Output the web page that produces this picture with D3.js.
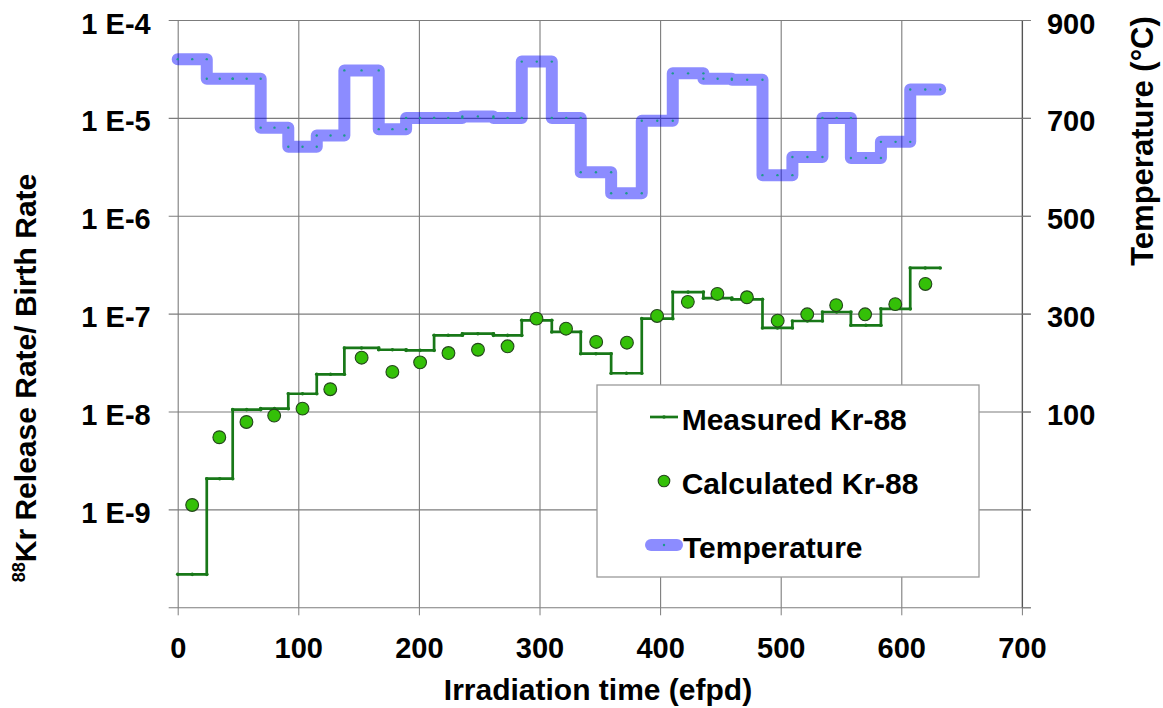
<!DOCTYPE html>
<html>
<head>
<meta charset="utf-8">
<script src="https://cdn.jsdelivr.net/npm/d3@7"></script>
<style>
  html, body { margin: 0; padding: 0; background: #fff; }
  svg { display: block; font-family: "Liberation Sans", Arial, Helvetica, sans-serif; }
  .tick text { font-weight: bold; font-size: 29px; fill: #000; }
</style>
</head>
<body>
<svg id="chart" width="1163" height="708"></svg>
<script>
// Irradiation intervals (efpd): each value below holds between two consecutive boundaries
const boundaries = [0, 24.1, 45.6, 68.8, 91.7, 115.3, 138.2, 166.7, 189.4, 212.6, 236.0, 261.8,
  285.3, 310.2, 334.2, 359.4, 384.8, 410.5, 435.9, 459.5, 484.9, 509.7, 534.6, 558.2, 583.1, 607.4, 632.3];

// Measured Kr-88 release rate / birth rate per interval
const measuredKr88 = [2.17e-10, 2.06e-9, 1.045e-8, 1.07e-8, 1.52e-8, 2.40e-8, 4.46e-8, 4.28e-8, 4.22e-8,
  6.01e-8, 6.24e-8, 6.0e-8, 8.55e-8, 6.50e-8, 3.90e-8, 2.46e-8, 8.89e-8, 1.66e-7, 1.44e-7, 1.40e-7,
  7.14e-8, 8.41e-8, 1.04e-7, 7.60e-8, 1.12e-7, 2.93e-7];

// Calculated Kr-88 R/B at the middle of each interval
const calcDays = [12, 34.5, 57, 80, 103.5, 126.5, 152.5, 178, 201, 224.5, 249, 273.5, 297.5, 322, 347,
  372.5, 397.5, 423, 447.5, 472, 497.5, 522, 546, 570, 595, 620];
const calculatedKr88 = [1.11e-9, 5.46e-9, 7.82e-9, 9.1e-9, 1.07e-8, 1.69e-8, 3.55e-8, 2.54e-8, 3.18e-8,
  3.96e-8, 4.28e-8, 4.64e-8, 8.89e-8, 7.02e-8, 5.14e-8, 5.05e-8, 9.47e-8, 1.32e-7, 1.59e-7, 1.47e-7,
  8.47e-8, 9.85e-8, 1.22e-7, 9.85e-8, 1.25e-7, 2.01e-7];

// Fuel temperature per interval (°C)
const temperatureC = [820, 780, 780, 680, 641, 664, 797, 677, 700, 700, 703, 700, 815, 700, 589, 546,
  694, 791, 780, 778, 583, 620, 700, 618, 651, 758];

// Axis ticks
const xTicks = [0, 100, 200, 300, 400, 500, 600, 700];
const yDecades = [1e-4, 1e-5, 1e-6, 1e-7, 1e-8, 1e-9, 1e-10];
const yTickLabels = ["1 E-4", "1 E-5", "1 E-6", "1 E-7", "1 E-8", "1 E-9", ""];
const tempTicks = [900, 700, 500, 300, 100, -100, -300];
const tempTickLabels = ["900", "700", "500", "300", "100", "", ""];

const svg = d3.select("#chart");
const plot = { left: 177.7, right: 1021.9, top: 20, bottom: 607.3 };

const x = d3.scaleLinear().domain([0, 700]).range([plot.left, plot.right]);
const y = d3.scaleLog().domain([1e-10, 1e-4]).range([plot.bottom, plot.top]);
const yT = d3.scaleLinear().domain([-300, 900]).range([plot.bottom, plot.top]);

const gridColor = "#7c7c7c";

// Vertical grid lines
svg.append("g")
  .attr("transform", `translate(0,${plot.top})`)
  .call(d3.axisBottom(x).tickValues(xTicks).tickSize(plot.bottom - plot.top).tickFormat(""))
  .call(g => g.select(".domain").remove())
  .call(g => g.selectAll("line").attr("stroke", gridColor).attr("stroke-width", 1.1));

// Horizontal grid lines (run through the outer tick marks on both sides)
svg.append("g")
  .attr("transform", `translate(${plot.left - 9},0)`)
  .call(d3.axisRight(y).tickValues(yDecades).tickSize(plot.right - plot.left + 18).tickFormat(""))
  .call(g => g.select(".domain").remove())
  .call(g => g.selectAll("line").attr("stroke", gridColor).attr("stroke-width", 1.1));

// Left axis labels
svg.append("g")
  .attr("transform", `translate(${plot.left},0)`)
  .call(d3.axisLeft(y).tickValues(yDecades).tickSize(9).tickSizeOuter(0).tickPadding(18)
    .tickFormat((d, i) => yTickLabels[i]))
  .call(g => g.select(".domain").remove())
  .call(g => g.selectAll("line").remove())
  .call(g => g.selectAll("text").attr("dy", "0.45em"));

// Right (temperature) axis
svg.append("g")
  .attr("transform", `translate(${plot.right},0)`)
  .call(d3.axisRight(yT).tickValues(tempTicks).tickSize(9).tickSizeOuter(0).tickPadding(16)
    .tickFormat((d, i) => tempTickLabels[i]))
  .call(g => g.select(".domain").attr("stroke", "#555").attr("stroke-width", 1.3))
  .call(g => g.selectAll("line").attr("stroke", gridColor))
  .call(g => g.selectAll("text").attr("dy", "0.45em"));

// Bottom axis
svg.append("g")
  .attr("transform", `translate(0,${plot.bottom})`)
  .call(d3.axisBottom(x).tickValues(xTicks).tickSize(8).tickSizeOuter(0).tickPadding(22))
  .call(g => g.select(".domain").remove())
  .call(g => g.selectAll("line").attr("stroke", gridColor))
  .call(g => g.selectAll("text").attr("dy", "0.71em"));

// Step series helpers
const stepPoints = vals => vals.flatMap((v, i) => [[boundaries[i], v], [boundaries[i + 1], v]]);
const markerPoints = vals => vals.flatMap((v, i) => [
  [boundaries[i], v], [(boundaries[i] + boundaries[i + 1]) / 2, v], [boundaries[i + 1], v]]);

// Temperature band
const tempLine = d3.line().x(d => x(d[0])).y(d => yT(d[1]));
svg.append("path")
  .datum(stepPoints(temperatureC))
  .attr("d", tempLine)
  .attr("fill", "none")
  .attr("stroke", "#0000ff")
  .attr("stroke-opacity", 0.45)
  .attr("stroke-width", 12)
  .attr("stroke-linejoin", "round")
  .attr("stroke-linecap", "round");
svg.append("g").selectAll("circle")
  .data(markerPoints(temperatureC))
  .join("circle")
  .attr("cx", d => x(d[0])).attr("cy", d => yT(d[1])).attr("r", 1.2)
  .attr("fill", "#1c9a8c");

// Measured Kr-88 steps
const krLine = d3.line().x(d => x(d[0])).y(d => y(d[1]));
svg.append("path")
  .datum(stepPoints(measuredKr88))
  .attr("d", krLine)
  .attr("fill", "none")
  .attr("stroke", "#187818")
  .attr("stroke-width", 2.7);
svg.append("g").selectAll("circle")
  .data(markerPoints(measuredKr88))
  .join("circle")
  .attr("cx", d => x(d[0])).attr("cy", d => y(d[1])).attr("r", 1.8)
  .attr("fill", "#187818");

// Calculated Kr-88 points
svg.append("g").selectAll("circle")
  .data(calcDays.map((t, i) => [t, calculatedKr88[i]]))
  .join("circle")
  .attr("cx", d => x(d[0])).attr("cy", d => y(d[1])).attr("r", 6.4)
  .attr("fill", "#34c008")
  .attr("stroke", "#24461c")
  .attr("stroke-width", 1.1);

// Axis titles
svg.append("text")
  .attr("x", 598).attr("y", 700)
  .attr("text-anchor", "middle")
  .attr("font-size", 30).attr("font-weight", "bold")
  .text("Irradiation time (efpd)");

const leftTitle = svg.append("text")
  .attr("transform", "translate(36,378) rotate(-90)")
  .attr("text-anchor", "middle")
  .attr("font-size", 30).attr("font-weight", "bold");
leftTitle.append("tspan").attr("font-size", 18).attr("dy", -11).text("88");
leftTitle.append("tspan").attr("dy", 11).text("Kr Release Rate/ Birth Rate");

svg.append("text")
  .attr("transform", "translate(1153,141) rotate(-90)")
  .attr("text-anchor", "middle")
  .attr("font-size", 31).attr("font-weight", "bold")
  .text("Temperature (°C)");

// Legend
const lg = svg.append("g");
lg.append("rect")
  .attr("x", 597).attr("y", 385).attr("width", 382).attr("height", 192)
  .attr("fill", "#fff").attr("stroke", "#9a9a9a").attr("stroke-width", 1.3);
lg.append("line").attr("x1", 650).attr("x2", 678).attr("y1", 417).attr("y2", 417)
  .attr("stroke", "#187818").attr("stroke-width", 2.7);
lg.append("circle").attr("cx", 664).attr("cy", 417).attr("r", 1.8).attr("fill", "#187818");
lg.append("circle").attr("cx", 664).attr("cy", 481).attr("r", 5.8)
  .attr("fill", "#34c008").attr("stroke", "#24461c").attr("stroke-width", 1.1);
lg.append("line").attr("x1", 651).attr("x2", 677).attr("y1", 545).attr("y2", 545)
  .attr("stroke", "#0000ff").attr("stroke-opacity", 0.45).attr("stroke-width", 12)
  .attr("stroke-linecap", "round");
lg.append("circle").attr("cx", 664).attr("cy", 545).attr("r", 1.2).attr("fill", "#1c9a8c");
const legendLabels = ["Measured Kr-88", "Calculated Kr-88", "Temperature"];
const legendBaselines = [430, 494, 558];
lg.selectAll("text.lbl")
  .data(legendLabels)
  .join("text")
  .attr("class", "lbl")
  .attr("x", (d, i) => i === 2 ? 683 : 681.7)
  .attr("y", (d, i) => legendBaselines[i])
  .attr("font-size", 30).attr("font-weight", "bold")
  .text(d => d);
</script>
</body>
</html>
